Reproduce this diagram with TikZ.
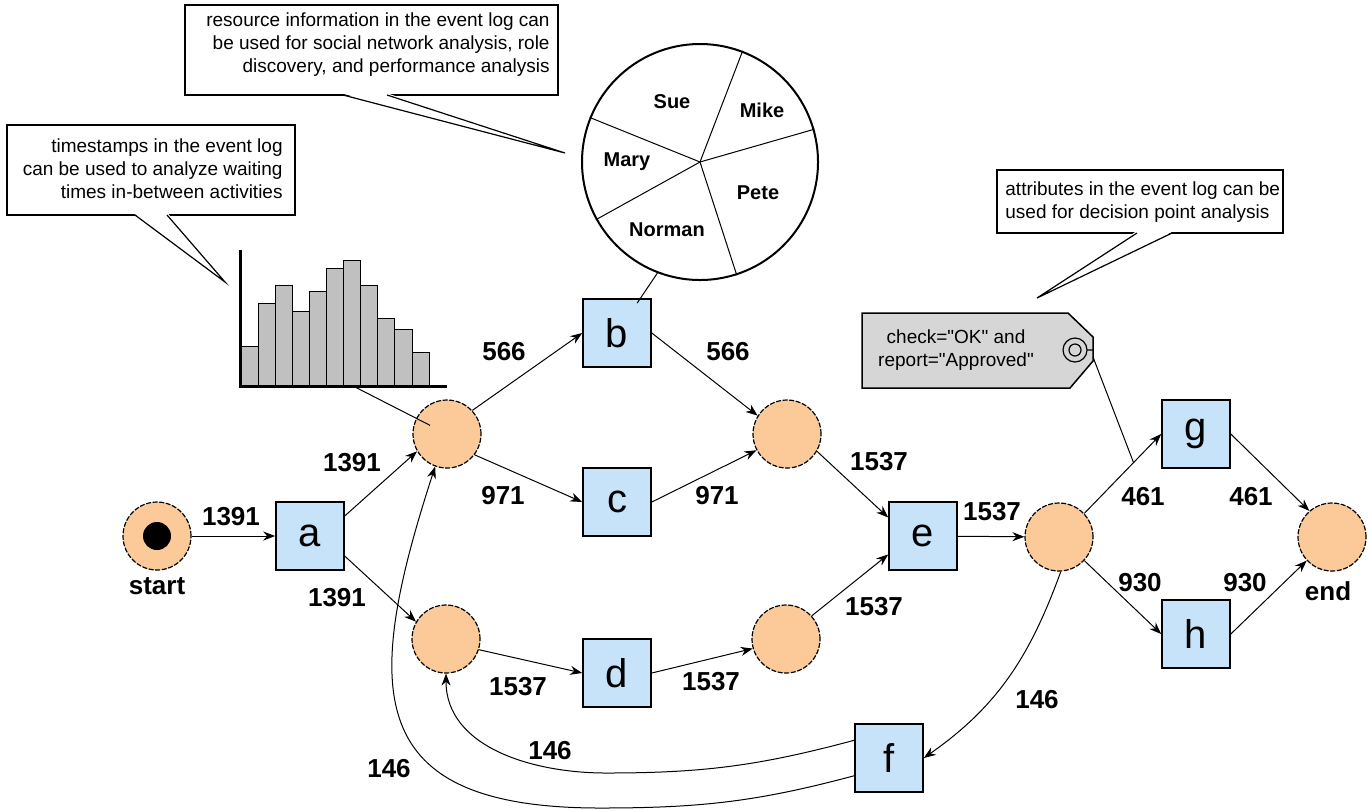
\documentclass[tikz,border=0pt]{standalone}
\usepackage{fontspec}
\setmainfont{Liberation Sans}[Ligatures=TeXOff]
\usetikzlibrary{arrows.meta}
\definecolor{placePeach}{RGB}{251,202,152}
\definecolor{transBlue}{RGB}{199,227,250}
\definecolor{tagGray}{RGB}{214,214,214}
\definecolor{barGray}{RGB}{192,192,192}

\begin{document}
\begin{tikzpicture}[x=0.5pt,y=-0.5pt,
  place/.style={circle,draw,fill=placePeach,minimum size=34pt,inner sep=0pt,line width=0.6pt,dash pattern=on 2.5pt off 0.8pt},
  trans/.style={rectangle,draw,fill=transBlue,minimum size=34pt,inner sep=0pt,line width=0.8pt,font=\fontsize{20}{22}\selectfont},
  flow/.style={-{Stealth[length=6pt,width=4.5pt]},line width=0.5pt},
  weight/.style={font=\fontsize{13}{15}\selectfont\bfseries,inner sep=0pt},
  note/.style={font=\fontsize{9.5}{11.5}\selectfont,inner sep=0pt},
  who/.style={font=\fontsize{10}{12}\selectfont\bfseries,inner sep=0pt}]
 \useasboundingbox (0,0) rectangle (1369,810);

 % callouts
 \filldraw[fill=white,line width=0.75pt] (7,125) rectangle (295,215);
 \fill[white] (134,213.5) -- (225,282) -- (168,213.5) -- cycle;
 \draw[line width=0.6pt] (135,215) -- (225,282) -- (167,215);
 \node[note,anchor=east,align=right] (waitnote) at (283,169)
   {timestamps in the event log\\can be used to analyze waiting\\times in-between activities};

 \filldraw[fill=white,line width=0.75pt] (185,5) rectangle (558,95);
 \fill[white] (342,93.5) -- (565,153) -- (388,93.5) -- cycle;
 \draw[line width=0.6pt] (343,95) -- (565,153) -- (387,95);
 \node[note,anchor=east,align=right] (resnote) at (550,45)
   {resource information in the event log can\\be used for social network analysis, role\\discovery, and performance analysis};

 \filldraw[fill=white,line width=0.75pt] (997,170) rectangle (1283,233);
 \fill[white] (1136,231.5) -- (1037,298) -- (1173,231.5) -- cycle;
 \draw[line width=0.6pt] (1137,233) -- (1037,298) -- (1172,233);
 \node[note,anchor=west,align=left] (attrnote) at (1005,202)
   {attributes in the event log can be\\used for decision point analysis};

 % histogram
 \foreach \top [count=\i] in {346,303,285,311,291,268,260,285,318,329,352}
   \filldraw[fill=barGray,line width=0.5pt] ({241+(\i-1)*17.1},386) rectangle ({241+\i*17.1},\top);
 \draw[line width=1.5pt] (240,250) -- (240,386) -- (447,386);
 \coordinate (histfoot) at (355,387);

 % pie of resources
 \node[circle,draw,line width=1pt,minimum size=118pt,inner sep=0pt] (pie) at (700,162) {};
 \foreach \a in {69,16,-72,209,158}
   \draw[line width=0.5pt] (pie.center) -- (pie.\a);
 \node[who] (sue) at (672,102) {Sue};
 \node[who] (mike) at (762,110) {Mike};
 \node[who] (mary) at (627,162) {Mary};
 \node[who] (pete) at (758,193) {Pete};
 \node[who] (norman) at (667,230) {Norman};

 % decision tag
 \filldraw[fill=tagGray,line width=0.75pt] (862,313) -- (1068,313) -- (1093,337)
   -- (1093,361) -- (1070,388) -- (862,388) -- cycle;
 \node[note,align=center] (cond) at (956,350) {check="OK" and\\report="Approved"};
 \draw[line width=0.6pt] (1075,350) circle[radius=12] (1075,350) circle[radius=6]
   (1087,350) -- (1093,350);
 \coordinate (tagring) at (1093,357);

 % net
 \node[place] (start) at (157,536) {};
 \node[circle,fill=black,minimum size=14pt,inner sep=0pt] (startdot) at (start) {};
 \node[weight] (startlbl) at (157,586) {start};
 \node[trans] (a) at (310,536) {a};
 \node[place] (p1) at (447,434) {};
 \node[place] (p2) at (446,639) {};
 \node[trans] (b) at (617,333) {b};
 \node[trans] (c) at (617,502) {c};
 \node[trans] (d) at (617,673) {d};
 \node[place] (p3) at (787,434) {};
 \node[place] (p4) at (786,639) {};
 \node[trans] (e) at (923,536) {e};
 \node[place] (p5) at (1059,537) {};
 \node[trans] (g) at (1196,434) {g};
 \node[trans] (h) at (1196,634) {h};
 \node[place] (endp) at (1332,537) {};
 \node[weight] (endlbl) at (1328,591) {end};
 \node[trans] (f) at (889,758) {f};

 \draw[flow] (start) -- (a);
 \draw[flow] (a.30) -- (p1.210);
 \draw[flow] (a.-30) -- (p2.150);
 \draw[flow] (p1.43) -- (b.west);
 \draw[flow] (p1.-37) -- (c.west);
 \draw[flow] (b.east) -- (p3.148);
 \draw[flow] (c.east) -- (p3.208);
 \draw[flow] (p3.-30) -- (e.152);
 \draw[flow] (p4.42) -- (e.208);
 \draw[flow] (e) -- (p5);
 \draw[flow] (p2.-18) -- (d.west);
 \draw[flow] (d.east) -- (p4.196);
 \draw[flow] (p5.43) -- coordinate[pos=0.64] (tagfoot) (g.west);
 \draw[flow] (p5.-43) -- (h.west);
 \draw[flow] (g.east) -- (endp.131);
 \draw[flow] (h.east) -- (endp.223);
 \draw[flow] (p5.-87) to[out=-110,in=35] (f.east);
 \coordinate (loopA) at (606,773);
 \coordinate (loopB) at (600,808);
 \draw[flow] (f.153) to[out=195,in=0] (loopA) to[out=180,in=-90] (p2.south);
 \draw[flow] (f.207) to[out=195,in=0] (loopB) to[out=180,in=-108,looseness=1.6] (p1.-110);

 % pointers
 \draw[line width=0.5pt,shorten >=9.5pt] (histfoot) -- (p1.center);
 \draw[line width=0.5pt,shorten >=18pt] (pie.-111) -- (b.center);
 \draw[line width=0.5pt] (tagring) -- (tagfoot);

 % weights
 \node[weight] (w1) at (231,517) {1391};
 \node[weight] (w2) at (352,463) {1391};
 \node[weight] (w3) at (337,598) {1391};
 \node[weight] (w4) at (504,352) {566};
 \node[weight] (w5) at (503,496) {971};
 \node[weight] (w6) at (728,352) {566};
 \node[weight] (w7) at (717,496) {971};
 \node[weight] (w8) at (879,462) {1537};
 \node[weight] (w9) at (992,512) {1537};
 \node[weight] (w10) at (874,607) {1537};
 \node[weight] (w11) at (518,687) {1537};
 \node[weight] (w12) at (711,682) {1537};
 \node[weight] (w13) at (1143,497) {461};
 \node[weight] (w14) at (1251,497) {461};
 \node[weight] (w15) at (1140,583) {930};
 \node[weight] (w16) at (1245,583) {930};
 \node[weight] (w17) at (1037,700) {146};
 \node[weight] (w18) at (550,751) {146};
 \node[weight] (w19) at (389,769) {146};
\end{tikzpicture}
\end{document}
